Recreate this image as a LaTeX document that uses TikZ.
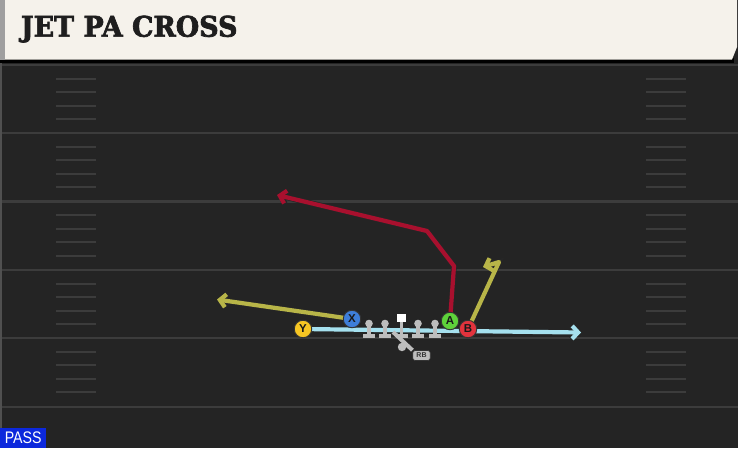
\documentclass[tikz,border=0pt]{standalone}
\usepackage{fontspec}
\usepackage{graphicx}
\usetikzlibrary{arrows.meta}
\newfontfamily\titlefont{DejaVu Serif}[BoldFeatures={FakeBold=2.5}]
\newfontfamily\labelfont{Liberation Sans}
\definecolor{fieldbg}{HTML}{242424}
\definecolor{yardc}{HTML}{3C3C3C}
\definecolor{cream}{HTML}{F5F2EB}
\definecolor{titletext}{HTML}{1E1E1E}
\definecolor{redroute}{HTML}{A8102E}
\definecolor{yelroute}{HTML}{B8B548}
\definecolor{blueroute}{HTML}{A5E0EE}
\definecolor{lmgray}{HTML}{BDBDBD}
\definecolor{ycol}{HTML}{F7C623}
\definecolor{xcol}{HTML}{3E7ED8}
\definecolor{acol}{HTML}{5ED13A}
\definecolor{bcol}{HTML}{E2333D}
\definecolor{passblue}{HTML}{0C28DC}
\tikzset{
  yardline/.style={draw=yardc, line width=2.2pt},
  hashline/.style={draw=yardc, line width=2pt},
  route/.style={line width=4.2pt, line join=round, line cap=butt,
    -{Straight Barb[length=6pt,width=13pt]},
    preaction={draw=black!85, line width=5.6pt}},
  player/.style={circle, minimum size=17.5pt, inner sep=0pt, draw=black!80,
    line width=0.9pt, font=\labelfont\bfseries\fontsize{11.5}{11.5}\selectfont, text=black!90},
  lmfill/.style={fill=lmgray},
  rbtag/.style={rounded corners=2.5pt, fill=lmgray, draw=black!80, line width=0.6pt,
    minimum width=17.5pt, minimum height=10pt, inner sep=0pt,
    font=\labelfont\bfseries\fontsize{7}{7}\selectfont, text=black!80}
}
\begin{document}
\begin{tikzpicture}[x=1pt,y=-1pt]
\useasboundingbox (0,0) rectangle (738,448);
% field
\fill[fieldbg] (0,0) rectangle (738,448);
\fill[yardc!90] (0,60) rectangle (2,448);
\foreach \yy in {65,133,201.5,270,338,407} {
  \draw[yardline] (2,\yy) -- (738,\yy);
}
\foreach \yy in {65,133,201.5,270,338} {
  \foreach \k in {1,2,3,4} {
    \draw[hashline] (56,\yy+13.6*\k) -- (96,\yy+13.6*\k);
    \draw[hashline] (646,\yy+13.6*\k) -- (686,\yy+13.6*\k);
  }
}
% title bar
\fill[black] (0,58) rectangle (734,62.5);
\fill[cream] (0,0) -- (737,0) -- (737,47) -- (732,59.5) -- (0,59.5) -- cycle;
\fill[gray!75] (0,0) rectangle (5,59.5);
\node[anchor=south west, inner sep=0pt, text=titletext] (title) at (20.7,42.7)
  {\resizebox{216.6pt}{21pt}{\titlefont\bfseries JET PA CROSS}};
% PASS label
\node[fill=passblue, anchor=south west, minimum width=46pt, minimum height=20.3pt,
  inner sep=0pt, text=white] (pass) at (0,448)
  {\resizebox{36.7pt}{11.7pt}{\labelfont PASS}};
% player positions
\coordinate (pY) at (303,329);
\coordinate (pX) at (352,319);
\coordinate (pA) at (450,321);
\coordinate (pB) at (468,329);
% route points
\coordinate (blueEnd) at (581,332.5);
\coordinate (xEnd) at (217,299.5);
\coordinate (a1) at (454,266);
\coordinate (a2) at (427,231);
\coordinate (aEnd) at (277,195);
\coordinate (b1) at (499,262);
\coordinate (bEnd) at (483,267);
% routes
\draw[route, draw=blueroute] (pY) -- (blueEnd);
\draw[route, draw=yelroute] (pX) -- (xEnd);
\draw[route, draw=redroute] (pA) -- (a1) -- (a2) -- (aEnd);
\draw[route, draw=yelroute] (pB) -- (b1) -- (bEnd);
% linemen
\foreach \xx in {369,385,418,435} {
  \fill[lmfill] (\xx,323.5) circle (3.8);
  \fill[lmfill] (\xx-1.7,324) rectangle (\xx+1.7,335);
  \fill[lmfill] (\xx-6,334) rectangle (\xx+6,337.5);
}
\fill[lmfill] (399.8,322) rectangle (403.2,335);
\fill[lmfill] (395.5,334) rectangle (407.5,337.5);
\fill[white] (397.3,313.8) rectangle (405.7,322.2);
% running back
\coordinate (qb) at (393,332);
\node[rbtag] (RB) at (421.5,355.5) {RB};
\draw[lmgray, line width=4pt] (qb) -- (RB.north west);
\fill[lmfill] (402,347) circle (4.2);
% players
\node[player, fill=ycol] (Y) at (pY) {Y};
\node[player, fill=xcol] (X) at (pX) {X};
\node[player, fill=acol] (A) at (pA) {A};
\node[player, fill=bcol] (B) at (pB) {B};
\end{tikzpicture}
\end{document}
